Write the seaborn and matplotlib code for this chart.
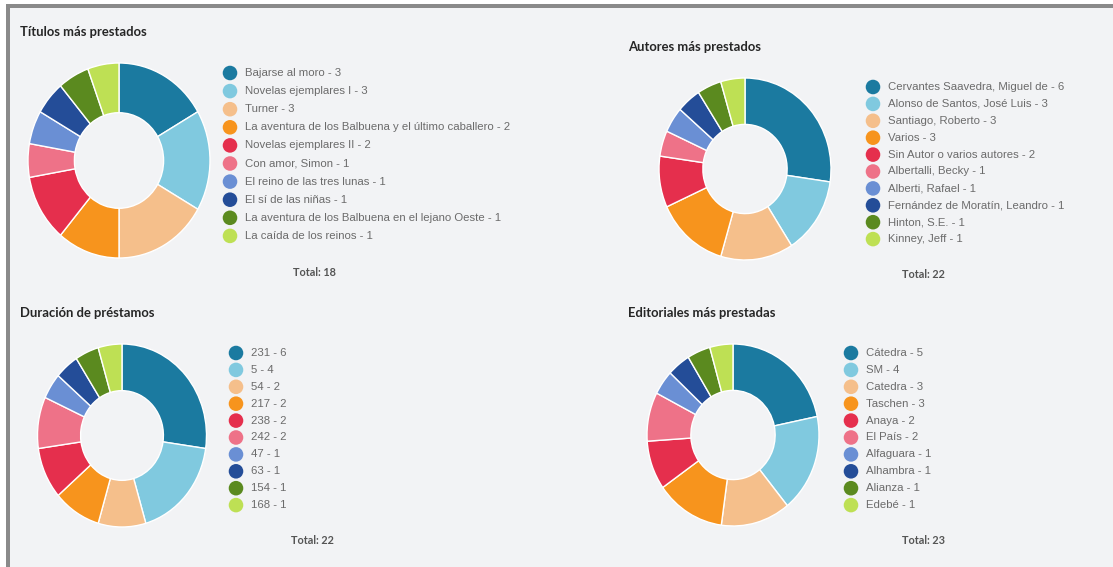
import matplotlib
matplotlib.use("Agg")
import matplotlib.pyplot as plt
import seaborn as sns
from matplotlib.patches import Rectangle

# ---- data -------------------------------------------------------------
titulos_labels = ["Bajarse al moro", "Novelas ejemplares I", "Turner",
                  "La aventura de los Balbuena y el último caballero",
                  "Novelas ejemplares II", "Con amor, Simon",
                  "El reino de las tres lunas", "El sí de las niñas",
                  "La aventura de los Balbuena en el lejano Oeste",
                  "La caída de los reinos"]
titulos_values = [3, 3, 3, 2, 2, 1, 1, 1, 1, 1]

autores_labels = ["Cervantes Saavedra, Miguel de", "Alonso de Santos, José Luis",
                  "Santiago, Roberto", "Varios", "Sin Autor o varios autores",
                  "Albertalli, Becky", "Alberti, Rafael",
                  "Fernández de Moratín, Leandro", "Hinton, S.E.", "Kinney, Jeff"]
autores_values = [6, 3, 3, 3, 2, 1, 1, 1, 1, 1]

duracion_labels = ["231", "5", "54", "217", "238", "242", "47", "63", "154", "168"]
duracion_values = [6, 4, 2, 2, 2, 2, 1, 1, 1, 1]

editoriales_labels = ["Cátedra", "SM", "Catedra", "Taschen", "Anaya", "El País",
                      "Alfaguara", "Alhambra", "Alianza", "Edebé"]
editoriales_values = [5, 4, 3, 3, 2, 2, 1, 1, 1, 1]

panel_titles = ["Títulos más prestados", "Autores más prestados",
                "Duración de préstamos", "Editoriales más prestadas"]

palette_hex = ["#1b7aa0", "#80c9df", "#f5bf8b", "#f7941d", "#e52f4d",
               "#ee7288", "#6a8fd4", "#244d98", "#5b8a1f", "#bee054"]

# ---- style ------------------------------------------------------------
sns.set_theme(style="white")
plt.rcParams["font.family"] = ["Liberation Sans", "DejaVu Sans"]
colors = sns.color_palette(palette_hex)

BG = "#f2f3f5"
W, H = 1113, 567
fig = plt.figure(figsize=(W / 100, H / 100), dpi=100)
fig.patch.set_facecolor("white")

# overlay axes in pixel units for frame, titles and legends
ov = fig.add_axes([0, 0, 1, 1])
ov.set_xlim(0, W)
ov.set_ylim(H, 0)
ov.axis("off")
ov.add_patch(Rectangle((10, 8), W - 10, H - 8, facecolor=BG, edgecolor="none", zorder=0))
ov.add_patch(Rectangle((6, 4), W - 6, 4, facecolor="#8a8a8a", edgecolor="none", zorder=1))
ov.add_patch(Rectangle((6, 4), 4, H - 4, facecolor="#8a8a8a", edgecolor="none", zorder=1))

panels = [
    dict(labels=titulos_labels, values=titulos_values, title=panel_titles[0],
         title_xy=(20, 32), center=(119, 160.5), rx=91, ry=97.5,
         leg_x=230, leg_y=73, leg_dy=18.1, total_xy=(314, 273)),
    dict(labels=autores_labels, values=autores_values, title=panel_titles[1],
         title_xy=(628, 47), center=(745, 169), rx=86, ry=91,
         leg_x=873, leg_y=87, leg_dy=16.9, total_xy=(923, 274)),
    dict(labels=duracion_labels, values=duracion_values, title=panel_titles[2],
         title_xy=(20, 313), center=(122, 435.5), rx=84.5, ry=91.5,
         leg_x=236, leg_y=353, leg_dy=16.9, total_xy=(312, 540)),
    dict(labels=editoriales_labels, values=editoriales_values, title=panel_titles[3],
         title_xy=(628, 313), center=(733, 435), rx=86, ry=91,
         leg_x=851, leg_y=353, leg_dy=16.9, total_xy=(923, 540)),
]

for p in panels:
    cx, cy = p["center"]
    rx, ry = p["rx"], p["ry"]
    ax = fig.add_axes([(cx - rx) / W, 1 - (cy + ry) / H, 2 * rx / W, 2 * ry / H])
    ax.pie(p["values"], colors=colors, startangle=90, counterclock=False,
           radius=1.0, wedgeprops=dict(width=0.51, edgecolor="white", linewidth=1.0))
    ax.set_aspect("auto")
    ax.set_xlim(-1, 1)
    ax.set_ylim(-1, 1)
    ax.axis("off")

    # panel title
    ov.text(p["title_xy"][0], p["title_xy"][1], p["title"], family=["Lato", "DejaVu Sans"],
            fontweight="bold", fontsize=9.4, color="#262626", va="center", ha="left")

    # legend
    for i, (lab, val) in enumerate(zip(p["labels"], p["values"])):
        y = p["leg_y"] + i * p["leg_dy"]
        ov.scatter([p["leg_x"]], [y], s=110, color=colors[i], edgecolors="none", zorder=3)
        ov.text(p["leg_x"] + 15, y, f"{lab} - {val}", fontsize=8.2, color="#6b6b6b",
                va="center", ha="left")

    # total
    ov.text(p["total_xy"][0], p["total_xy"][1], f"Total: {sum(p['values'])}",
            family=["Lato", "DejaVu Sans"], fontweight="bold", fontsize=7.8,
            color="#555555", va="center", ha="center")

fig.savefig("out.png", dpi=100, facecolor=fig.get_facecolor())
